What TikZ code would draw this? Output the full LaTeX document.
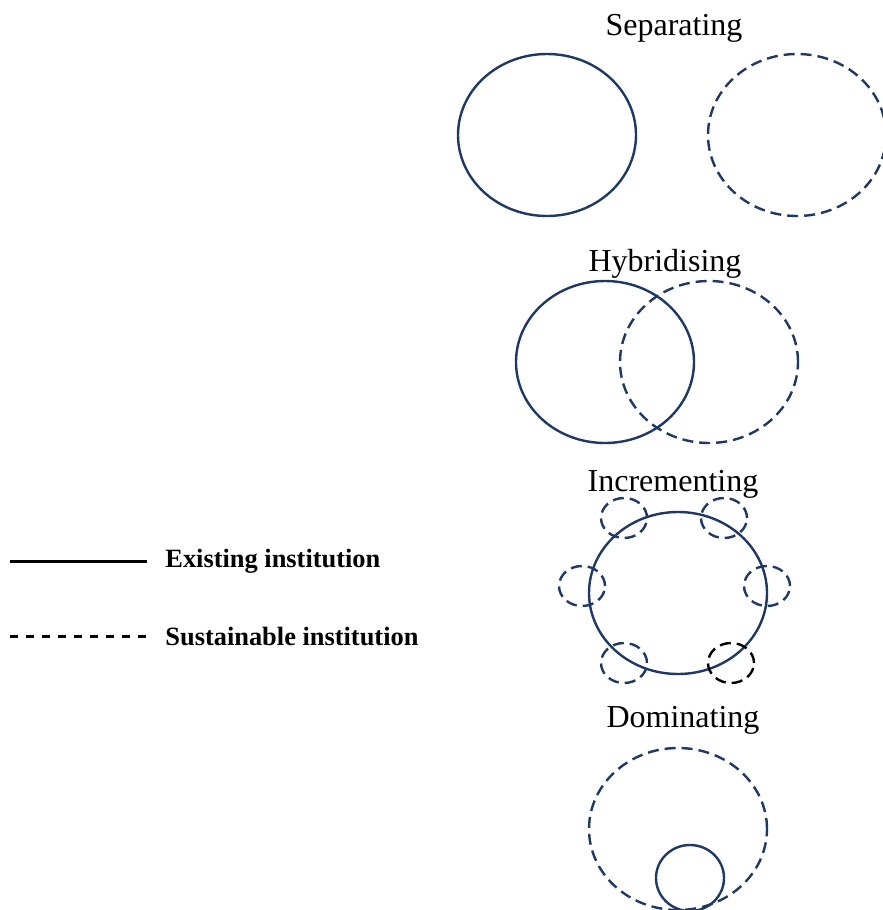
\documentclass[tikz,border=0pt]{standalone}
\usepackage{fontspec}
\setmainfont{Liberation Serif}
\usepackage{tikz}
\usetikzlibrary{positioning}
\usetikzlibrary{shapes.geometric}
\definecolor{navy}{HTML}{1F3864}
\tikzstyle{title} = [font=\fontsize{16}{19}\selectfont]
\tikzstyle{legendtext} = [font=\fontsize{13.2}{16}\selectfont\bfseries, anchor=west, inner sep=0pt]
\tikzstyle{existing} = [ellipse,draw=navy,line width=1.2pt,inner sep=0pt]
\tikzstyle{sustainable} = [ellipse,draw=navy,line width=1.2pt,inner sep=0pt,dash pattern=on 5.5pt off 3pt]
\tikzstyle{big} = [minimum width=89pt,minimum height=81pt]
\tikzstyle{small} = [minimum width=23pt,minimum height=20pt]

\begin{document}
\begin{tikzpicture}[x=0.5pt,y=-0.5pt]
				\useasboundingbox (0,0) rectangle (883,910);
				
				%Separating
				\node[title] (septitle) at (674,28) {Separating};
				\node[existing,big] (sepold) at (547,135) {};
				\node[sustainable,big] (sepnew) at (797,135) {};
				
				%Hybridising
				\node[title] (hybtitle) at (665,264) {Hybridising};
				\node[existing,big] (hybold) at (605,362) {};
				\node[sustainable,big] (hybnew) at (709,362) {};
				
				%Incrementing
				\node[title] (inctitle) at (673,484) {Incrementing};
				\node[existing,big] (incold) at (678,593) {};
				\node[sustainable,small] (inca) at (624,518) {};
				\node[sustainable,small] (incb) at (724,518) {};
				\node[sustainable,small] (incc) at (582,586) {};
				\node[sustainable,small] (incd) at (767,586) {};
				\node[sustainable,small] (ince) at (624,663) {};
				\node[sustainable,small,draw=black] (incf) at (731,663) {};
				
				%Dominating
				\node[title] (domtitle) at (683,720) {Dominating};
				\node[sustainable,big] (domnew) at (678,829) {};
				\node[existing,minimum width=34pt,minimum height=33pt] (domold) at (690,878) {};
				
				%Legend
				\coordinate (exa) at (10,561);
				\coordinate (exb) at (147,561);
				\coordinate (sua) at (10,636);
				\coordinate (sub) at (147,636);
				\draw[line width=1.5pt] (exa) -- (exb);
				\draw[line width=1.5pt,dash pattern=on 4pt off 4pt] (sua) -- (sub);
				\node[legendtext, right=18 of exb] (exlabel) {Existing institution};
				\node[legendtext, right=18 of sub] (sulabel) {Sustainable institution};
				
\end{tikzpicture}
\end{document}
